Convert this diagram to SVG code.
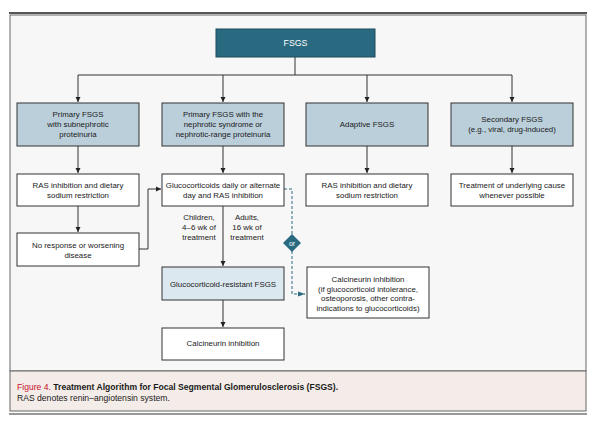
<svg xmlns="http://www.w3.org/2000/svg" width="600" height="422" viewBox="0 0 600 422">
<defs>
<marker id="ah" markerWidth="6" markerHeight="6" refX="5" refY="3" orient="auto" markerUnits="userSpaceOnUse"><path d="M0,0.5 L5,3 L0,5.5 Z" fill="#222"/></marker>
<marker id="ahb" markerWidth="8" markerHeight="6" refX="7" refY="3" orient="auto" markerUnits="userSpaceOnUse"><path d="M0,0.5 L7,3 L0,5.5 Z" fill="#2a6a80"/></marker>
</defs>
<style>
text{font-family:"Liberation Sans",Arial,sans-serif;font-size:7.9px;fill:#1a1a1a;text-anchor:middle}
.lvl1 rect{fill:#bacfda;stroke:#333;stroke-width:1}
.wb rect{fill:#fff;stroke:#333;stroke-width:1}
.lt rect{fill:#dce8ef;stroke:#333;stroke-width:1}
.c{fill:none;stroke:#333;stroke-width:1}
.d{fill:none;stroke:#2a6a80;stroke-width:1;stroke-dasharray:3,2}
.cap{text-anchor:start;font-size:8.6px}
</style>
<rect x="0" y="0" width="600" height="422" fill="#fff"/>
<line x1="9" y1="13" x2="587" y2="13" stroke="#555" stroke-width="2"/>
<rect x="10" y="15" width="576" height="356" fill="#f7f7f7" stroke="#666" stroke-width="1"/>
<rect x="10" y="371" width="576" height="40" fill="#f4ece8" stroke="#666" stroke-width="1"/>
<line x1="9" y1="414" x2="587" y2="414" stroke="#777" stroke-width="1.5"/>

<g id="connectors">
<path class="c" d="M295,57 V75"/>
<path class="c" d="M78,75 H512"/>
<path class="c" d="M78,75 V102" marker-end="url(#ah)"/>
<path class="c" d="M223,75 V102" marker-end="url(#ah)"/>
<path class="c" d="M367,75 V102" marker-end="url(#ah)"/>
<path class="c" d="M512,75 V102" marker-end="url(#ah)"/>
<path class="c" d="M78,146 V173" marker-end="url(#ah)"/>
<path class="c" d="M223,146 V173" marker-end="url(#ah)"/>
<path class="c" d="M367,146 V173" marker-end="url(#ah)"/>
<path class="c" d="M512,146 V173" marker-end="url(#ah)"/>
<path class="c" d="M78,206 V232" marker-end="url(#ah)"/>
<path class="c" d="M139,249 H148 V189 H161" marker-end="url(#ah)"/>
<path class="c" d="M223,206 V266" marker-end="url(#ah)"/>
<path class="c" d="M223,300 V327" marker-end="url(#ah)"/>
<path class="d" d="M284,189 H292 V294 H305" marker-end="url(#ahb)"/>
</g>

<g id="or">
<path d="M292,234 L301,243 L292,252 L283,243 Z" fill="#2a6a80"/>
<text x="292" y="245.5" style="fill:#fff;font-size:7px">or</text>
</g>

<g id="fsgs">
<rect x="216" y="29" width="159" height="28" fill="#2a6a80" stroke="#1d4a5a" stroke-width="1"/>
<text x="295.5" y="46" style="fill:#fff;font-size:8.8px">FSGS</text>
</g>

<g id="primary-sub" class="lvl1">
<rect x="17" y="103" width="122" height="43"/>
<text x="78" y="117">Primary FSGS</text>
<text x="78" y="127">with subnephrotic</text>
<text x="78" y="137">proteinuria</text>
</g>
<g id="primary-neph" class="lvl1">
<rect x="162" y="103" width="122" height="43"/>
<text x="223" y="117">Primary FSGS with the</text>
<text x="223" y="127">nephrotic syndrome or</text>
<text x="223" y="137">nephrotic-range proteinuria</text>
</g>
<g id="adaptive" class="lvl1">
<rect x="306" y="103" width="122" height="43"/>
<text x="367" y="127">Adaptive FSGS</text>
</g>
<g id="secondary" class="lvl1">
<rect x="451" y="103" width="122" height="43"/>
<text x="512" y="122">Secondary FSGS</text>
<text x="512" y="132">(e.g., viral, drug-induced)</text>
</g>

<g id="ras1" class="wb">
<rect x="17" y="174" width="122" height="32"/>
<text x="78" y="188">RAS inhibition and dietary</text>
<text x="78" y="198">sodium restriction</text>
</g>
<g id="gluco" class="wb">
<rect x="162" y="174" width="122" height="32"/>
<text x="223" y="188">Glucocorticoids daily or alternate</text>
<text x="223" y="198">day and RAS inhibition</text>
</g>
<g id="ras2" class="wb">
<rect x="306" y="174" width="122" height="32"/>
<text x="367" y="188">RAS inhibition and dietary</text>
<text x="367" y="198">sodium restriction</text>
</g>
<g id="treat" class="wb">
<rect x="451" y="174" width="122" height="32"/>
<text x="512" y="188">Treatment of underlying cause</text>
<text x="512" y="198">whenever possible</text>
</g>

<g id="noresp" class="wb">
<rect x="17" y="233" width="122" height="33"/>
<text x="78" y="248">No response or worsening</text>
<text x="78" y="258">disease</text>
</g>

<g id="labels">
<text x="199" y="220">Children,</text>
<text x="199" y="230">4–6 wk of</text>
<text x="199" y="240">treatment</text>
<text x="247" y="220">Adults,</text>
<text x="247" y="230">16 wk of</text>
<text x="247" y="240">treatment</text>
</g>

<g id="resistant" class="lt">
<rect x="162" y="267" width="122" height="33"/>
<text x="223" y="287">Glucocorticoid-resistant FSGS</text>
</g>
<g id="calc-alt" class="wb">
<rect x="307" y="267" width="122" height="51"/>
<text x="368" y="282">Calcineurin inhibition</text>
<text x="368" y="291.5">(if glucocorticoid intolerance,</text>
<text x="368" y="301">osteoporosis, other contra-</text>
<text x="368" y="310.5">indications to glucocorticoids)</text>
</g>
<g id="calc" class="wb">
<rect x="162" y="328" width="122" height="32"/>
<text x="223" y="346">Calcineurin inhibition</text>
</g>

<g id="caption">
<text class="cap" x="17" y="390"><tspan style="fill:#c8102e">Figure 4.</tspan><tspan style="font-weight:bold"> Treatment Algorithm for Focal Segmental Glomerulosclerosis (FSGS).</tspan></text>
<text class="cap" x="17" y="401">RAS denotes renin–angiotensin system.</text>
</g>
</svg>
